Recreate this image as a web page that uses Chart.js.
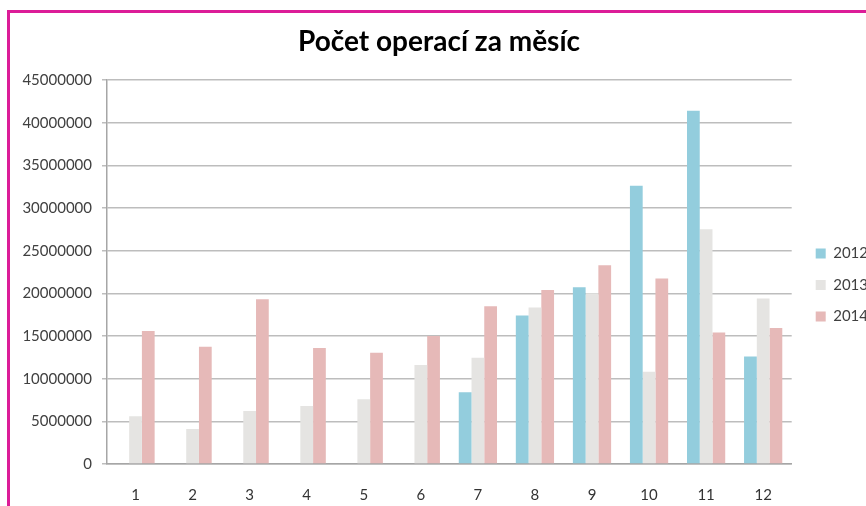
<!DOCTYPE html>
<html>
<head>
<meta charset="utf-8">
<script src="https://cdn.jsdelivr.net/npm/chart.js@4.4.1/dist/chart.umd.min.js"></script>
<style>
  html, body { margin: 0; padding: 0; background: #fff; overflow: hidden; }
  #wrap { position: relative; width: 866px; height: 506px; }
  #frame { position: absolute; left: 7px; top: 10px; width: 900px; height: 600px; border: 3px solid #DC1C98; pointer-events: none; }
  canvas { position: absolute; left: 0; top: 0; }
</style>
</head>
<body>
<div id="wrap">
  <canvas id="chart" width="866" height="506"></canvas>
  <div id="frame"></div>
</div>
<script>
// data
const months = ['1','2','3','4','5','6','7','8','9','10','11','12'];
const y2012 = [null, null, null, null, null, null, 8400000, 17400000, 20700000, 32600000, 41400000, 12600000];
const y2013 = [5600000, 4100000, 6200000, 6800000, 7600000, 11600000, 12450000, 18350000, 20000000, 10800000, 27500000, 19400000];
const y2014 = [15600000, 13750000, 19300000, 13600000, 13050000, 15000000, 18500000, 20400000, 23300000, 21750000, 15400000, 15950000];
const seriesNames = ['2012', '2013', '2014'];
const seriesColors = ['#93CDDD', '#E5E4E2', '#E6B9B8'];

Chart.defaults.font.family = 'Lato, "Open Sans", sans-serif';
Chart.defaults.color = '#404040';

// nudge the legend down a bit, like in the original
const legendShift = {
    id: 'legendShift',
    afterLayout(chart) {
        if (chart.legend) {
            chart.legend.top += 32;
            chart.legend.bottom += 32;
        }
    }
};

const ctx = document.getElementById('chart').getContext('2d');
new Chart(ctx, {
    type: 'bar',
    data: {
        labels: months,
        datasets: [y2012, y2013, y2014].map((d, i) => ({
            label: seriesNames[i],
            data: d,
            backgroundColor: seriesColors[i],
            borderWidth: 0,
            categoryPercentage: 0.67,
            barPercentage: 1.0
        }))
    },
    options: {
        responsive: false,
        animation: false,
        layout: { padding: { left: 0, right: -12, top: 0, bottom: 0 } },
        plugins: {
            title: {
                display: true,
                text: 'Počet operací za měsíc',
                color: '#000',
                font: { size: 28, weight: 'bold' },
                padding: { top: 25, bottom: 21.4 }
            },
            legend: {
                position: 'right',
                labels: {
                    boxWidth: 10,
                    boxHeight: 10,
                    padding: 16.5,
                    font: { size: 15 },
                    color: '#404040'
                }
            },
            tooltip: { enabled: false }
        },
        scales: {
            x: {
                grid: { display: false },
                border: { display: true, color: '#A6A6A6', width: 1.5 },
                ticks: { font: { size: 15 }, color: '#333', padding: 14 },
                afterFit: s => { s.height = 42; }
            },
            y: {
                min: 0,
                max: 45000000,
                ticks: {
                    stepSize: 5000000,
                    font: { size: 15 },
                    color: '#404040',
                    padding: 10,
                    callback: v => String(v)
                },
                grid: { color: '#BDBDBD', lineWidth: 1.5, tickLength: 5, drawTicks: true },
                border: { display: true, color: '#A6A6A6', width: 1.5 },
                afterFit: s => { s.width = 107; }
            },
            gap: {
                position: 'right',
                display: true,
                grid: { display: false },
                border: { display: false },
                ticks: { display: false },
                afterFit: s => { s.width = 7.5; }
            }
        }
    },
    plugins: [legendShift]
});
</script>
</body>
</html>
